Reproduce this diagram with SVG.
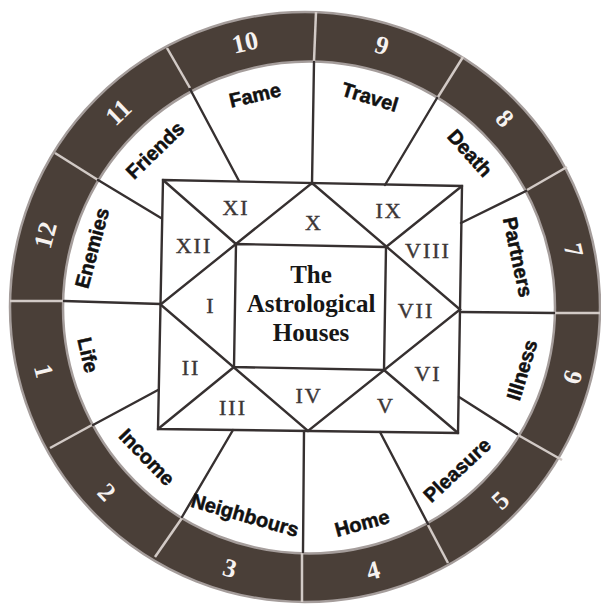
<svg xmlns="http://www.w3.org/2000/svg" width="601" height="605" viewBox="0 0 601 605">
<style>
.ring{fill:#4a3f38;stroke:#a59d9b;stroke-width:2.5}
.inner{fill:#ffffff;stroke:#a59d9b;stroke-width:2.5}
.div{stroke:#d2cac6;stroke-width:2.5;fill:none}
.ln{stroke:#363030;stroke-width:2.4;fill:none;stroke-linecap:round}
.num{font-family:"Liberation Serif",serif;font-weight:bold;font-size:26px;fill:#f6f2f0;text-anchor:middle}
.lab{font-family:"Liberation Sans",Arial,sans-serif;font-weight:bold;font-size:20px;fill:#111111;stroke:#111111;stroke-width:0.5;text-anchor:middle}
.rom{font-family:"Liberation Serif",serif;font-size:22px;fill:#3c3636;stroke:#3c3636;stroke-width:0.4;text-anchor:middle;letter-spacing:2px}
.title{font-family:"Liberation Serif",serif;font-weight:bold;font-size:25px;fill:#161616;text-anchor:middle}
</style>
<rect width="601" height="605" fill="#ffffff"/>
<g id="wheel">
<circle class="ring" cx="305" cy="307" r="295"/>
<circle class="inner" cx="309" cy="307.5" r="246"/>
</g>
<g id="connectors">
<line class="div" x1="314" y1="61" x2="316" y2="12"/>
<line class="div" x1="190" y1="88" x2="167" y2="48"/>
<line class="div" x1="98" y1="180" x2="55" y2="153"/>
<line class="div" x1="63" y1="301" x2="10" y2="301"/>
<line class="div" x1="92" y1="425" x2="50" y2="448"/>
<line class="div" x1="182" y1="518" x2="155" y2="557"/>
<line class="div" x1="302" y1="553" x2="302" y2="602"/>
<line class="div" x1="428" y1="525" x2="448" y2="563"/>
<line class="div" x1="518" y1="435" x2="562" y2="460"/>
<line class="div" x1="555" y1="313" x2="600" y2="313"/>
<line class="div" x1="527" y1="190" x2="567" y2="167"/>
<line class="div" x1="438" y1="97" x2="463" y2="57"/>
<line class="ln" x1="312" y1="184" x2="314" y2="62"/>
<line class="ln" x1="239" y1="181" x2="190" y2="89"/>
<line class="ln" x1="161" y1="218" x2="98" y2="180"/>
<line class="ln" x1="161" y1="304" x2="64" y2="301"/>
<line class="ln" x1="158" y1="390" x2="93" y2="425"/>
<line class="ln" x1="233" y1="430" x2="182" y2="517"/>
<line class="ln" x1="304" y1="431" x2="303" y2="552"/>
<line class="ln" x1="380" y1="432" x2="428" y2="524"/>
<line class="ln" x1="459" y1="397" x2="517" y2="434"/>
<line class="ln" x1="460" y1="312" x2="554" y2="313"/>
<line class="ln" x1="461" y1="223" x2="526" y2="191"/>
<line class="ln" x1="385" y1="185" x2="437" y2="98"/>
<polygon class="ln" points="163,180 462,186 458,433 158,429"/>
<polygon class="ln" points="312,183 460,309.5 308,431 160.5,304.5"/>
<polygon class="ln" points="236,244 386,247 384,370 234,367"/>
<line class="ln" x1="163" y1="180" x2="236" y2="244"/>
<line class="ln" x1="462" y1="186" x2="386" y2="247"/>
<line class="ln" x1="458" y1="433" x2="384" y2="370"/>
<line class="ln" x1="158" y1="429" x2="234" y2="367"/>
</g>
<g id="house-1">
<text class="num" transform="translate(44,371) rotate(76)" y="9">1</text>
<text class="lab" transform="translate(88,355) rotate(77)" y="7">Life</text>
<text class="rom" x="211" y="313">I</text>
</g>
<g id="house-2">
<text class="num" transform="translate(107,492) rotate(46)" y="9">2</text>
<text class="lab" transform="translate(147,457) rotate(46)" y="7">Income</text>
<text class="rom" x="191" y="375">II</text>
</g>
<g id="house-3">
<text class="num" transform="translate(230,568) rotate(16)" y="9">3</text>
<text class="lab" transform="translate(245,515) rotate(16)" y="7">Neighbours</text>
<text class="rom" x="233" y="415">III</text>
</g>
<g id="house-4">
<text class="num" transform="translate(373,570) rotate(-15)" y="9">4</text>
<text class="lab" transform="translate(362,523) rotate(-15)" y="7">Home</text>
<text class="rom" x="309" y="403">IV</text>
</g>
<g id="house-5">
<text class="num" transform="translate(500,500) rotate(-43)" y="9">5</text>
<text class="lab" transform="translate(457,470) rotate(-43)" y="7">Pleasure</text>
<text class="rom" x="386" y="413">V</text>
</g>
<g id="house-6">
<text class="num" transform="translate(572,377) rotate(-73)" y="9">6</text>
<text class="lab" transform="translate(522,370) rotate(-73)" y="7">Illness</text>
<text class="rom" x="428" y="381">VI</text>
</g>
<g id="house-7">
<text class="num" transform="translate(574,250) rotate(77)" y="9">7</text>
<text class="lab" transform="translate(518,257) rotate(78)" y="7">Partners</text>
<text class="rom" x="416" y="318">VII</text>
</g>
<g id="house-8">
<text class="num" transform="translate(505,118) rotate(47)" y="9">8</text>
<text class="lab" transform="translate(470,153) rotate(48)" y="7">Death</text>
<text class="rom" x="428" y="258">VIII</text>
</g>
<g id="house-9">
<text class="num" transform="translate(382,45) rotate(17)" y="9">9</text>
<text class="lab" transform="translate(370,97) rotate(17)" y="7">Travel</text>
<text class="rom" x="389" y="218">IX</text>
</g>
<g id="house-10">
<text class="num" transform="translate(245,42) rotate(-13)" y="9">10</text>
<text class="lab" transform="translate(255,95) rotate(-13)" y="7">Fame</text>
<text class="rom" x="314" y="230">X</text>
</g>
<g id="house-11">
<text class="num" transform="translate(118,112) rotate(-44)" y="9">11</text>
<text class="lab" transform="translate(155,150) rotate(-44)" y="7">Friends</text>
<text class="rom" x="236" y="215">XI</text>
</g>
<g id="house-12">
<text class="num" transform="translate(45,235) rotate(-75)" y="9">12</text>
<text class="lab" transform="translate(92,248) rotate(-75)" y="7">Enemies</text>
<text class="rom" x="194" y="253">XII</text>
</g>
<g id="title">
<text class="title" x="311" y="283">The</text>
<text class="title" x="311" y="312">Astrological</text>
<text class="title" x="311" y="341">Houses</text>
</g>
</svg>
